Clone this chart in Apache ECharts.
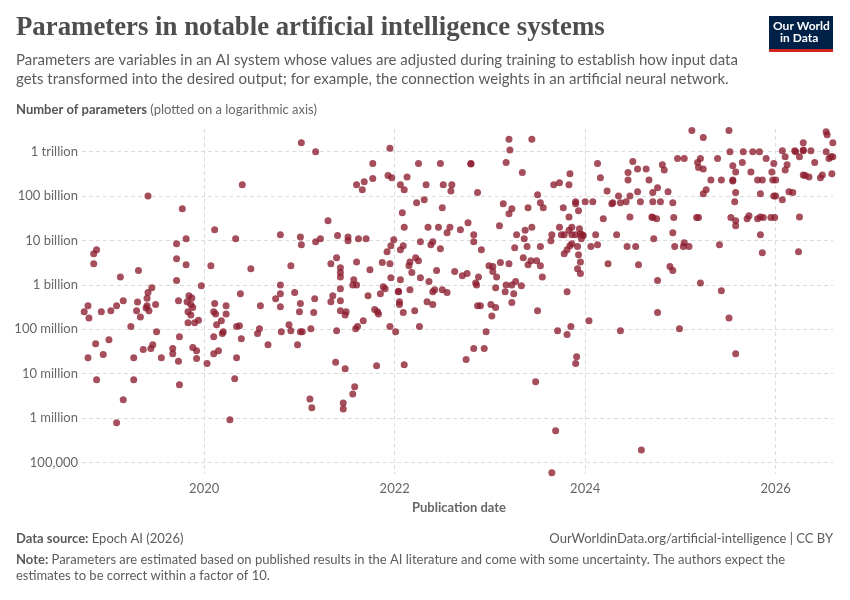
<!DOCTYPE html>
<html>
<head>
<meta charset="utf-8">
<script src="https://cdn.jsdelivr.net/npm/echarts@6.0.0/dist/echarts.min.js"></script>
<style>html,body{margin:0;padding:0;background:#fff}#main{width:850px;height:600px}</style>
</head>
<body>
<div id="main"></div>
<script>
// publication date (decimal year) and number of parameters
// up to early 2020
var dates2019 = [
  2019.41, 2019.77, 2019.81, 2019.71, 2018.87, 2018.84, 2018.84, 2019.71, 2019.81, 2019.31,
  2019.12, 2019.71, 2019.97, 2019.45, 2019.41, 2019.84, 2019.87, 2018.78, 2018.74, 2018.79,
  2018.92, 2019.02, 2019.08, 2019.15, 2019.30, 2019.29, 2019.33, 2019.40, 2019.40, 2019.39,
  2019.42, 2019.49, 2019.73, 2019.82, 2019.86, 2019.88, 2019.83, 2019.86, 2019.94, 2019.83,
  2019.90, 2019.23, 2019.50, 2019.74, 2019.00, 2018.86, 2019.46, 2019.44, 2019.36, 2019.67,
  2019.88, 2019.92, 2019.67, 2018.78, 2018.94, 2019.26, 2019.55, 2019.92, 2019.73, 2020.03,
  2018.87, 2019.26, 2019.74, 2019.15, 2019.08
];
var params2019 = [
  1.0e11, 5.2e10, 1.1e10, 8.5e9, 6.2e9, 5.0e9, 3.0e9, 3.9e9, 2.85e9, 2.1e9,
  1.5e9, 1.25e9, 9.6e8, 8.6e8, 6.7e8, 5.7e8, 5.1e8, 3.4e8, 2.5e8, 1.8e8,
  2.5e8, 2.6e8, 3.4e8, 4.4e8, 4.1e8, 2.6e8, 1.9e8, 5.0e8, 3.4e8, 3.0e8,
  2.6e8, 3.6e8, 4.4e8, 4.2e8, 3.6e8, 3.1e8, 2.5e8, 2.1e8, 1.6e8, 1.4e8,
  1.4e8, 1.15e8, 8.8e7, 6.8e7, 5.8e7, 4.7e7, 4.5e7, 3.7e7, 3.5e7, 3.7e7,
  3.9e7, 3.3e7, 2.8e7, 2.3e7, 2.7e7, 2.3e7, 2.3e7, 2.2e7, 1.9e7, 1.7e7,
  7.3e6, 7.3e6, 5.6e6, 2.6e6, 7.9e5
];

// 2020 to mid 2021
var dates2021 = [
  2021.02, 2021.17, 2020.40, 2021.60, 2021.68, 2021.66, 2021.30, 2020.11, 2020.33, 2020.80,
  2021.01, 2021.02, 2021.17, 2021.22, 2021.40, 2021.51, 2021.51, 2021.62, 2021.70, 2020.07,
  2020.49, 2020.91, 2021.33, 2021.39, 2021.43, 2021.43, 2021.43, 2021.60, 2021.57, 2021.56,
  2021.60, 2021.43, 2020.80, 2020.38, 2020.80, 2020.95, 2020.75, 2021.16, 2021.35, 2021.33,
  2021.43, 2020.11, 2020.23, 2020.10, 2020.12, 2020.23, 2020.18, 2020.13, 2020.20, 2020.19,
  2020.10, 2020.34, 2020.37, 2020.39, 2020.59, 2020.58, 2020.56, 2020.67, 2020.80, 2020.81,
  2020.89, 2020.91, 2021.00, 2021.01, 2021.01, 2021.03, 2020.98, 2021.15, 2021.12, 2021.43,
  2021.49, 2021.48, 2021.39, 2021.59, 2021.61, 2021.67, 2020.10, 2020.15, 2020.34, 2020.32,
  2020.27, 2021.38, 2021.48, 2021.58, 2021.56, 2021.11, 2021.13, 2021.46, 2021.46
];
var params2021 = [
  1.6e12, 1.0e12, 1.8e11, 1.8e11, 2.1e11, 1.4e11, 2.8e10, 1.75e10, 1.1e10, 1.35e10,
  1.2e10, 8.0e9, 9.4e9, 1.1e10, 1.3e10, 1.2e10, 9.9e9, 1.1e10, 1.1e10, 2.7e9,
  2.3e9, 2.7e9, 3.0e9, 4.1e9, 2.45e9, 1.9e9, 1.5e9, 3.3e9, 1.3e9, 1.0e9,
  1.0e9, 8.2e8, 1.0e9, 6.3e8, 6.3e8, 6.7e8, 4.9e8, 4.9e8, 5.7e8, 4.2e8,
  4.4e8, 3.8e8, 3.4e8, 2.5e8, 2.2e8, 2.2e8, 1.56e8, 1.27e8, 8.8e7, 8.0e7,
  6.8e7, 1.15e8, 1.2e8, 6.1e7, 3.4e8, 1.03e8, 8.0e7, 4.5e7, 3.2e8, 8.8e7,
  1.27e8, 9.3e7, 2.5e8, 3.8e8, 8.8e7, 8.8e7, 4.5e7, 2.4e8, 1.03e8, 2.6e8,
  2.5e8, 2.1e8, 9.3e7, 1.03e8, 1.15e8, 1.56e8, 2.8e7, 3.3e7, 2.3e7, 7.7e6,
  9.2e5, 1.8e7, 1.3e7, 5.1e6, 3.5e6, 2.7e6, 1.7e6, 2.2e6, 1.6e6
];

// late 2021 to spring 2023
var dates2022 = [
  2021.95, 2023.20, 2023.21, 2021.77, 2022.25, 2022.48, 2022.80, 2022.80, 2023.17, 2023.34,
  2021.77, 2021.93, 2021.97, 2022.13, 2022.06, 2022.10, 2022.33, 2022.51, 2022.60, 2022.59,
  2022.87, 2022.23, 2022.31, 2022.50, 2022.08, 2023.14, 2023.23, 2023.20, 2022.10, 2022.35,
  2022.46, 2022.58, 2022.55, 2022.69, 2022.77, 2022.83, 2022.83, 2023.10, 2023.28, 2021.99,
  2021.96, 2022.09, 2022.06, 2021.92, 2022.27, 2022.40, 2022.38, 2022.48, 2022.91, 2023.26,
  2023.35, 2021.87, 2021.95, 2021.74, 2022.16, 2022.15, 2022.22, 2022.25, 2022.18, 2022.44,
  2022.63, 2022.71, 2022.76, 2022.88, 2022.85, 2022.86, 2022.99, 2023.03, 2023.03, 2023.07,
  2023.11, 2023.20, 2023.27, 2023.23, 2023.17, 2023.33, 2021.96, 2022.06, 2022.27, 2022.36,
  2021.88, 2021.90, 2022.04, 2022.04, 2022.16, 2022.42, 2022.40, 2022.50, 2022.55, 2023.06,
  2023.16, 2023.25, 2021.72, 2021.85, 2022.05, 2022.05, 2021.79, 2021.82, 2021.83, 2022.09,
  2022.21, 2022.34, 2022.40, 2021.95, 2022.01, 2022.26, 2022.87, 2022.90, 2023.01, 2023.06,
  2023.02, 2023.23, 2022.96, 2022.83, 2022.94, 2022.75, 2021.81, 2022.10
];
var params2022 = [
  1.2e12, 1.9e12, 1.1e12, 5.4e11, 5.4e11, 5.4e11, 5.4e11, 5.3e11, 5.7e11, 3.4e11,
  2.5e11, 2.9e11, 2.6e11, 2.7e11, 1.8e11, 1.4e11, 1.8e11, 1.8e11, 1.8e11, 1.3e11,
  1.2e11, 7.1e10, 8.3e10, 5.5e10, 4.2e10, 6.7e10, 5.2e10, 4.0e10, 2.0e10, 2.0e10,
  2.0e10, 2.0e10, 1.5e10, 1.75e10, 2.5e10, 1.35e10, 9.4e9, 2.15e10, 1.35e10, 1.04e10,
  7.6e9, 7.6e9, 6.2e9, 5.6e9, 9.4e9, 9.4e9, 8.0e9, 6.5e9, 6.2e9, 6.9e9,
  4.1e9, 3.2e9, 3.0e9, 2.2e9, 3.3e9, 2.7e9, 4.1e9, 3.5e9, 1.9e9, 2.1e9,
  2.0e9, 1.6e9, 1.8e9, 1.5e9, 1.1e9, 1.0e9, 2.7e9, 2.6e9, 2.0e9, 1.5e9,
  3.2e9, 3.0e9, 1.2e9, 1.0e9, 1.0e9, 9.6e8, 1.45e9, 1.3e9, 1.45e9, 1.2e9,
  9.1e8, 8.2e8, 7.0e8, 7.2e8, 7.8e8, 7.8e8, 7.0e8, 7.8e8, 6.7e8, 8.6e8,
  7.0e8, 6.3e8, 5.7e8, 6.3e8, 4.2e8, 3.6e8, 2.8e8, 2.5e8, 2.2e8, 2.4e8,
  2.6e8, 4.2e8, 3.6e8, 1.15e8, 8.8e7, 1.15e8, 3.4e8, 3.4e8, 3.6e8, 3.1e8,
  2.0e8, 4.0e8, 8.8e7, 3.7e7, 3.7e7, 2.1e7, 1.5e7, 1.6e7
];

// spring 2023 to end of 2024
var dates2024 = [
  2023.44, 2024.13, 2024.16, 2023.84, 2023.67, 2023.73, 2023.83, 2024.50, 2024.45, 2024.45,
  2024.55, 2024.64, 2024.67, 2024.81, 2024.83, 2024.97, 2024.76, 2024.87, 2024.71, 2024.55,
  2024.23, 2024.35, 2024.47, 2023.50, 2023.53, 2023.56, 2023.40, 2023.77, 2023.90, 2023.90,
  2024.00, 2024.08, 2024.28, 2024.29, 2024.37, 2024.43, 2024.58, 2024.71, 2024.79, 2024.92,
  2023.93, 2023.83, 2024.19, 2024.47, 2024.70, 2024.71, 2024.75, 2024.93, 2023.44, 2023.37,
  2023.36, 2023.39, 2023.53, 2023.40, 2023.43, 2023.49, 2023.53, 2023.55, 2023.65, 2023.64,
  2023.73, 2023.86, 2023.83, 2023.75, 2023.78, 2023.86, 2023.90, 2023.94, 2023.95, 2023.97,
  2023.98, 2023.96, 2023.86, 2023.84, 2023.92, 2023.81, 2023.78, 2023.93, 2023.95, 2023.92,
  2023.95, 2023.81, 2024.11, 2024.06, 2024.13, 2024.33, 2024.44, 2024.53, 2024.24, 2024.56,
  2024.72, 2024.92, 2024.94, 2024.89, 2024.92, 2024.76, 2023.50, 2023.71, 2023.81, 2023.85,
  2024.04, 2024.37, 2024.76, 2024.99, 2023.91, 2023.90, 2023.48, 2023.69, 2024.59, 2023.65
];
var params2024 = [
  1.9e12, 5.4e11, 2.6e11, 3.2e11, 1.8e11, 2.0e11, 1.8e11, 6.0e11, 3.4e11, 2.3e11,
  4.1e11, 4.1e11, 2.3e11, 5.1e11, 3.9e11, 7.0e11, 1.55e11, 1.26e11, 1.2e11, 1.26e11,
  1.3e11, 1.0e11, 1.0e11, 1.08e11, 7.1e10, 5.5e10, 5.5e10, 5.5e10, 7.5e10, 6.7e10,
  7.5e10, 7.5e10, 6.7e10, 7.1e10, 7.1e10, 7.5e10, 7.5e10, 7.5e10, 7.5e10, 7.1e10,
  4.7e10, 3.4e10, 3.1e10, 3.4e10, 3.4e10, 3.3e10, 3.1e10, 3.3e10, 2.0e10, 1.7e10,
  1.1e10, 7.3e9, 7.3e9, 2.85e9, 3.5e9, 3.5e9, 2.7e9, 1.5e9, 1.35e10, 9.9e9,
  2.0e10, 2.0e10, 1.7e10, 1.35e10, 1.35e10, 1.35e10, 1.35e10, 1.85e10, 1.4e10, 1.35e10,
  1.3e10, 1.1e10, 8.5e9, 7.6e9, 7.3e9, 6.2e9, 5.0e9, 4.8e9, 3.3e9, 2.3e9,
  1.8e9, 7.0e8, 1.35e10, 7.3e9, 8.0e9, 1.35e10, 7.3e9, 7.3e9, 3.0e9, 2.85e9,
  1.1e10, 1.5e10, 7.3e9, 2.6e9, 2.1e9, 1.25e9, 2.6e8, 9.3e7, 7.6e7, 1.15e8,
  1.56e8, 9.3e7, 2.4e8, 1.03e8, 2.4e7, 1.7e7, 6.6e6, 5.2e5, 1.9e5, 5.9e4
];

// 2025 onwards
var dates2025 = [
  2025.12, 2025.24, 2025.51, 2025.52, 2025.66, 2025.76, 2025.83, 2026.07, 2026.20, 2026.21,
  2026.29, 2026.29, 2026.37, 2026.53, 2026.53, 2026.54, 2026.60, 2026.29, 2026.10, 2026.25,
  2026.56, 2026.58, 2026.60, 2026.41, 2026.12, 2026.10, 2025.04, 2025.21, 2025.18, 2025.19,
  2025.24, 2025.39, 2025.65, 2025.55, 2025.58, 2025.74, 2025.90, 2025.98, 2025.96, 2025.32,
  2025.43, 2025.55, 2025.55, 2025.81, 2025.86, 2025.97, 2026.00, 2026.29, 2026.31, 2026.35,
  2026.47, 2026.49, 2026.59, 2025.27, 2025.24, 2025.58, 2025.84, 2025.98, 2026.00, 2026.07,
  2026.14, 2026.18, 2025.57, 2025.17, 2025.19, 2025.53, 2025.58, 2025.58, 2025.70, 2025.72,
  2025.81, 2025.84, 2025.87, 2025.95, 2025.99, 2026.25, 2025.84, 2025.04, 2025.03, 2025.09,
  2025.41, 2025.86, 2026.24, 2025.21, 2025.43, 2025.51, 2025.58
];
var params2025 = [
  3.0e12, 2.1e12, 3.0e12, 1.0e12, 1.0e12, 1.0e12, 1.0e12, 1.05e12, 1.05e12, 1.0e12,
  1.05e12, 1.1e12, 1.05e12, 1.0e12, 2.8e12, 2.4e12, 1.6e12, 1.6e12, 7.7e11, 7.7e11,
  7.0e11, 7.7e11, 7.7e11, 5.7e11, 5.1e11, 3.9e11, 7.0e11, 7.0e11, 5.7e11, 4.4e11,
  4.1e11, 7.0e11, 5.7e11, 4.8e11, 3.5e11, 3.5e11, 7.0e11, 5.4e11, 3.5e11, 2.3e11,
  2.3e11, 2.3e11, 2.2e11, 2.3e11, 2.3e11, 2.3e11, 2.3e11, 3.0e11, 2.9e11, 2.7e11,
  2.6e11, 3.0e11, 3.2e11, 1.4e11, 1.13e11, 1.2e11, 1.13e11, 1.0e11, 1.0e11, 8.3e10,
  1.26e11, 1.2e11, 7.5e10, 3.3e10, 3.3e10, 3.3e10, 2.8e10, 2.15e10, 3.1e10, 3.6e10,
  3.1e10, 3.4e10, 3.3e10, 3.3e10, 3.3e10, 3.4e10, 1.35e10, 8.9e9, 7.3e9, 7.3e9,
  8.0e9, 5.3e9, 5.6e9, 1.1e9, 7.4e8, 1.8e8, 2.8e7
];

// axis ticks
var yTickValues = [1e5, 1e6, 1e7, 1e8, 1e9, 1e10, 1e11, 1e12];
var yTickLabels = ['100,000', '1 million', '10 million', '100 million', '1 billion', '10 billion', '100 billion', '1 trillion'];
var xTickYears = [2020, 2022, 2024, 2026];

var groups = [
  [dates2019, params2019], [dates2021, params2021], [dates2022, params2022],
  [dates2024, params2024], [dates2025, params2025]
];
var points = [];
groups.forEach(function (g) {
  g[0].forEach(function (d, i) { points.push([d, g[1][i]]); });
});

var grey = '#5b5b5b';
var font = 'Lato, "Noto Sans", sans-serif';

var myChart = echarts.init(document.getElementById('main'));

option = {
  backgroundColor: '#fff',
  animation: false,
  grid: { left: 82, right: 17, top: 129, bottom: 126 },
  xAxis: {
    type: 'value',
    min: 2018.717,
    max: 2026.602,
    splitNumber: 5,
    axisLine: { show: false },
    axisTick: { show: false },
    axisLabel: {
      color: '#666', fontSize: 13, fontFamily: font, margin: 8,
      showMinLabel: false, showMaxLabel: false,
      formatter: function (v) {
        var r = Math.round(v);
        return (Math.abs(v - r) < 1e-6 && xTickYears.indexOf(r) >= 0) ? String(r) : '';
      }
    },
    splitLine: { show: true, showMinLine: false, showMaxLine: false, lineStyle: { color: '#dcdcdc', type: [4, 3], width: 1 } }
  },
  yAxis: {
    type: 'log',
    logBase: 10,
    min: 5.5e4,
    max: 3.25e12,
    axisLine: { show: false },
    axisTick: { show: false },
    axisLabel: {
      color: '#666', fontSize: 13, fontFamily: font, margin: 4,
      showMinLabel: false, showMaxLabel: false,
      formatter: function (v) {
        var lv = Math.log10(v);
        for (var i = 0; i < yTickValues.length; i++) {
          if (Math.abs(lv - Math.log10(yTickValues[i])) < 1e-6) return yTickLabels[i];
        }
        return '';
      }
    },
    splitLine: { show: true, showMinLine: false, showMaxLine: false, lineStyle: { color: '#dcdcdc', type: [4, 3], width: 1 } }
  },
  series: [{
    type: 'scatter',
    data: points,
    symbolSize: 7,
    itemStyle: { color: '#8c1c2e', opacity: 0.78 }
  }],
  graphic: [
    { type: 'text', left: 16, top: 15, style: { text: 'Parameters in notable artificial intelligence systems', fill: '#4e4e4e', font: 'bold 26.8px "Liberation Serif", serif' } },
    { type: 'text', left: 16, top: 53, style: { text: 'Parameters are variables in an AI system whose values are adjusted during training to establish how input data', fill: grey, font: '15px ' + font } },
    { type: 'text', left: 16, top: 72, style: { text: 'gets transformed into the desired output; for example, the connection weights in an artificial neural network.', fill: grey, font: '15px ' + font } },
    { type: 'text', left: 16, top: 103, style: { text: '{b|Number of parameters} (plotted on a logarithmic axis)', fill: '#666', font: '13px ' + font, rich: { b: { fontWeight: 'bold', fontSize: 13, fontFamily: font, fill: '#555' } } } },
    { type: 'text', x: 459, y: 508, style: { text: 'Publication date', fill: '#666', font: 'bold 13px ' + font, align: 'center', verticalAlign: 'middle' } },
    { type: 'text', left: 16, top: 532, style: { text: '{b|Data source:} Epoch AI (2026)', fill: grey, font: '13px ' + font, rich: { b: { fontWeight: 'bold', fontSize: 13, fontFamily: font, fill: grey } } } },
    { type: 'text', right: 17, top: 532, style: { text: 'OurWorldinData.org/artificial-intelligence | CC BY', fill: grey, font: '13px ' + font } },
    { type: 'text', left: 16, top: 553, style: { text: '{b|Note:} Parameters are estimated based on published results in the AI literature and come with some uncertainty. The authors expect the', fill: grey, font: '13px ' + font, rich: { b: { fontWeight: 'bold', fontSize: 13, fontFamily: font, fill: grey } } } },
    { type: 'text', left: 16, top: 569, style: { text: 'estimates to be correct within a factor of 10.', fill: grey, font: '13px ' + font } },
    { type: 'rect', left: 769, top: 16, shape: { width: 64, height: 36 }, style: { fill: '#002147' } },
    { type: 'rect', left: 769, top: 49, shape: { width: 64, height: 3 }, style: { fill: '#ce261e' } },
    { type: 'text', left: 773, top: 20, style: { text: 'Our World', fill: '#fff', font: 'bold 12px ' + font, width: 56, align: 'center' } },
    { type: 'text', left: 780, top: 32, style: { text: 'in Data', fill: '#fff', font: 'bold 12px ' + font } }
  ]
};

myChart.setOption(option);
</script>
</body>
</html>
